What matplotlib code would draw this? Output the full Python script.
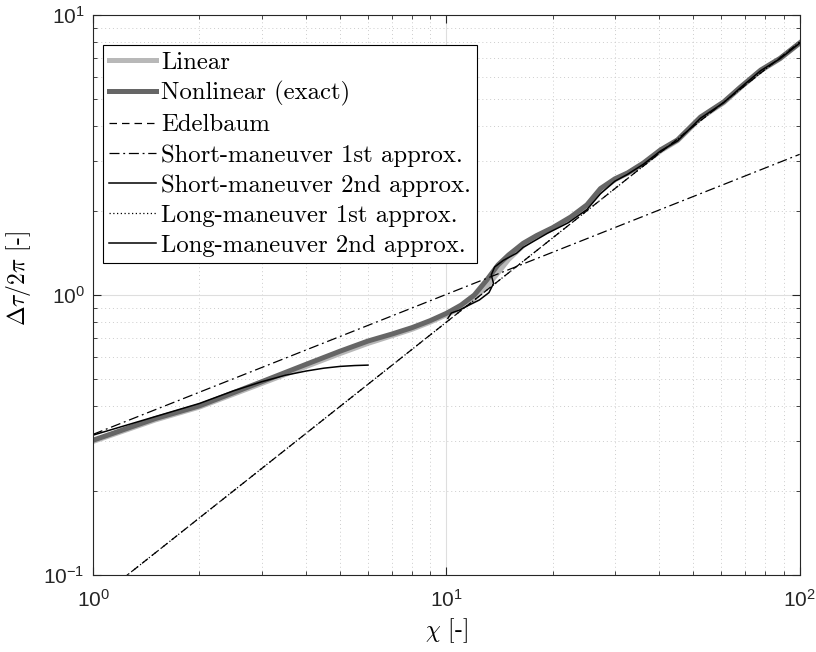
import matplotlib
matplotlib.use('Agg')
import matplotlib.pyplot as plt
import numpy as np

plt.rcParams['font.family'] = ['Liberation Sans', 'DejaVu Sans']
plt.rcParams['mathtext.fontset'] = 'cm'
plt.rcParams['axes.unicode_minus'] = False

# 비선형 (정확해)
chi_nl = [1, 1.5, 2, 3, 4, 5, 6, 7, 8, 9, 10, 11, 12, 13, 14, 15, 16.5, 18, 20,
          22.5, 25, 27.3, 30, 32.6, 36.1, 40.4, 45.1, 52.4, 60.9, 68, 77.6, 88, 100]
dt_nl = [0.303, 0.362, 0.402, 0.49, 0.565, 0.63, 0.685, 0.725, 0.765, 0.81, 0.86,
         0.92, 1.0, 1.13, 1.28, 1.39, 1.53, 1.63, 1.74,
         1.90, 2.1, 2.4, 2.6, 2.73, 2.96, 3.30, 3.58, 4.32, 4.89, 5.53, 6.36, 7.0, 7.95]

# 선형
chi_lin = [1, 1.5, 2, 3, 4, 5, 6, 7, 8, 9, 10, 11, 12, 13, 14, 15, 16.5, 18, 20,
           22.5, 25, 27.3, 30, 32.6, 36.1, 40.4, 45.1, 52.4, 60.9, 68, 77.6, 88, 100]
dt_lin = [0.300, 0.358, 0.398, 0.483, 0.555, 0.618, 0.672, 0.715, 0.755, 0.80, 0.85,
          0.9, 0.97, 1.07, 1.2, 1.34, 1.5, 1.62, 1.73,
          1.88, 2.08, 2.36, 2.58, 2.72, 2.94, 3.27, 3.56, 4.28, 4.86, 5.5, 6.32, 6.98, 7.92]

# Edelbaum / 장기 1차 근사 (직선)
chi_edel = [1, 100]
dt_edel = [0.08, 8.0]

# 단기 1차 근사
chi_s1 = [1, 100]
dt_s1 = [0.318, 3.18]

# 단기 2차 근사
chi_s2 = [1, 1.5, 2, 2.5, 3, 3.5, 4, 4.5, 5, 5.5, 6]
dt_s2 = [0.316, 0.368, 0.41, 0.455, 0.49, 0.517, 0.535, 0.548, 0.556, 0.56, 0.562]

# 장기 2차 근사
chi_l2 = [10.1, 10.33, 10.9, 11.6, 12.4, 13.2, 13.6, 13.4, 13.7, 14.5, 15.8, 16.5,
          19.3, 22.1, 25, 27.3, 30, 32.6, 36.1, 40.4, 45.1, 52.4, 60.9, 68, 77.6, 88, 100]
dt_l2 = [0.826, 0.862, 0.884, 0.921, 0.96, 1.02, 1.10, 1.18, 1.26, 1.33, 1.41, 1.48,
         1.66, 1.81, 2.02, 2.30, 2.55, 2.70, 2.93, 3.27, 3.55, 4.28, 4.86, 5.5, 6.33, 6.98, 7.93]

fig = plt.figure(figsize=(8.16, 6.52), dpi=100)
ax = fig.add_axes([0.114, 0.118, 0.866, 0.859])

ax.plot(chi_lin, dt_lin, color=(0.72, 0.72, 0.72), lw=3.6, label='Linear')
ax.plot(chi_nl, dt_nl, color=(0.4, 0.4, 0.4), lw=3.6, label='Nonlinear (exact)')
ax.plot(chi_edel, dt_edel, color='k', lw=0.9, ls=(0, (6, 4)), label='Edelbaum')
ax.plot(chi_s1, dt_s1, color='k', lw=0.9, ls=(0, (8, 3, 1.5, 3)),
        label='Short-maneuver 1st approx.')
ax.plot(chi_s2, dt_s2, color='k', lw=1.1, label='Short-maneuver 2nd approx.')
ax.plot(chi_edel, dt_edel, color='k', lw=0.9, ls=(0, (1, 2)),
        label='Long-maneuver 1st approx.')
ax.plot(chi_l2, dt_l2, color='k', lw=1.1, label='Long-maneuver 2nd approx.')

ax.set_xscale('log')
ax.set_yscale('log')
ax.set_xlim(1, 100)
ax.set_ylim(0.1, 10)

ax.grid(True, which='major', color=(0.87, 0.87, 0.87), lw=0.8)
ax.grid(True, which='minor', color=(0.8, 0.8, 0.8), lw=0.7, ls=(0, (1, 3)))
ax.tick_params(which='both', direction='in', top=True, right=True,
               colors=(0.15, 0.15, 0.15), labelsize=15)
ax.tick_params(which='major', length=6)
ax.tick_params(which='minor', length=3)
ax.tick_params(axis='x', which='major', pad=10)
ax.tick_params(axis='y', which='major', pad=6)
for s in ax.spines.values():
    s.set_color((0.15, 0.15, 0.15))

ax.set_xlabel(r'$\chi$ [-]', fontsize=17, family='cmr10', labelpad=4)
ax.set_ylabel(r'$\Delta\tau/2\pi$ [-]', fontsize=17, family='cmr10')
ax.yaxis.set_label_coords(-0.085, 0.53)

leg = ax.legend(loc='upper left', bbox_to_anchor=(0.014, 0.946),
                prop={'family': 'cmr10', 'size': 17.8},
                fancybox=False, framealpha=1, edgecolor='k',
                handlelength=1.9, handletextpad=0.2, labelspacing=0.31,
                borderpad=0.25, borderaxespad=0.0)
leg.get_frame().set_linewidth(0.8)

fig.savefig('out.png', dpi=100)
